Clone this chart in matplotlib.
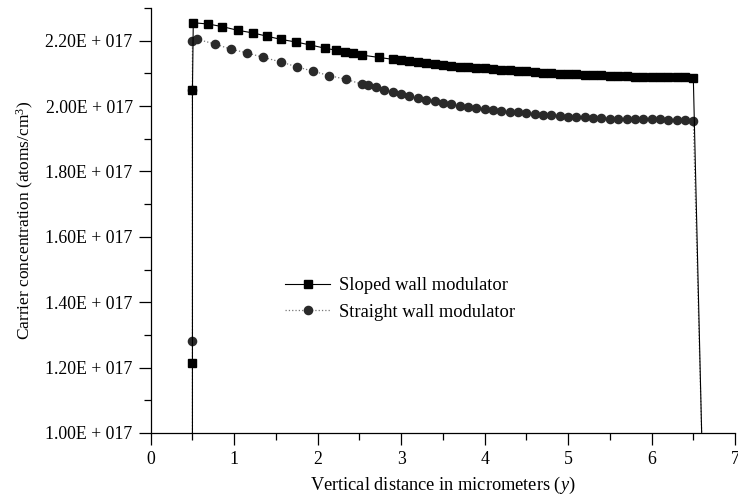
import matplotlib
matplotlib.use("Agg")
import matplotlib.pyplot as plt
from matplotlib.ticker import MultipleLocator, FixedLocator, FixedFormatter

plt.rcParams['font.family'] = ['Liberation Serif', 'DejaVu Serif']
plt.rcParams['mathtext.fontset'] = 'custom'
plt.rcParams['mathtext.rm'] = 'Liberation Serif'
plt.rcParams['mathtext.it'] = 'Liberation Serif:italic'

# carrier concentration in units of 1E17 atoms/cm^3
sloped_x = [0.5, 0.5, 0.5, 0.51, 0.69, 0.86, 1.04, 1.22, 1.39, 1.56, 1.74, 1.91,
            2.09, 2.22, 2.33, 2.42, 2.53, 2.73, 2.9,
            3.0, 3.1, 3.2, 3.3, 3.4, 3.5, 3.6, 3.7, 3.8, 3.9,
            4.0, 4.1, 4.2, 4.3, 4.4, 4.5, 4.6, 4.7, 4.8, 4.9,
            5.0, 5.1, 5.2, 5.3, 5.4, 5.5, 5.6, 5.7, 5.8, 5.9,
            6.0, 6.1, 6.2, 6.3, 6.4, 6.5, 6.6]
sloped_y = [1.0, 1.215, 2.05, 2.255, 2.251, 2.243, 2.232, 2.224, 2.214, 2.204, 2.196, 2.187,
            2.177, 2.171, 2.166, 2.161, 2.156, 2.149, 2.143,
            2.140, 2.137, 2.134, 2.132, 2.129, 2.126, 2.124, 2.121, 2.119, 2.117,
            2.115, 2.113, 2.111, 2.109, 2.107, 2.106, 2.104, 2.102, 2.101, 2.099,
            2.098, 2.097, 2.096, 2.095, 2.094, 2.093, 2.092, 2.091, 2.090, 2.090,
            2.089, 2.089, 2.088, 2.088, 2.088, 2.087, 1.0]

straight_x = [0.5, 0.5, 0.5, 0.5, 0.56, 0.77, 0.96, 1.15, 1.35, 1.56, 1.75, 1.94,
              2.14, 2.34, 2.53,
              2.6, 2.7, 2.8, 2.9, 3.0, 3.1, 3.2, 3.3, 3.4, 3.5, 3.6, 3.7, 3.8, 3.9,
              4.0, 4.1, 4.2, 4.3, 4.4, 4.5, 4.6, 4.7, 4.8, 4.9,
              5.0, 5.1, 5.2, 5.3, 5.4, 5.5, 5.6, 5.7, 5.8, 5.9,
              6.0, 6.1, 6.2, 6.3, 6.4, 6.5, 6.6]
straight_y = [1.0, 1.28, 2.05, 2.20, 2.204, 2.190, 2.174, 2.163, 2.149, 2.135, 2.120, 2.107,
              2.093, 2.082, 2.067,
              2.063, 2.057, 2.050, 2.043, 2.037, 2.031, 2.025, 2.020, 2.015, 2.010, 2.005,
              2.001, 1.997, 1.994,
              1.991, 1.988, 1.985, 1.983, 1.981, 1.978, 1.976, 1.974, 1.972, 1.970,
              1.968, 1.967, 1.966, 1.964, 1.963, 1.962, 1.961, 1.961, 1.960, 1.960,
              1.959, 1.959, 1.958, 1.957, 1.956, 1.955, 1.0]

y_ticks = [1.0, 1.2, 1.4, 1.6, 1.8, 2.0, 2.2]
y_tick_labels = ["1.00E + 017", "1.20E + 017", "1.40E + 017", "1.60E + 017",
                 "1.80E + 017", "2.00E + 017", "2.20E + 017"]

fig = plt.figure(figsize=(7.38, 4.95), dpi=100)
ax = fig.add_axes([0.2042, 0.1253, 0.7918, 0.8585])

# dotted straight-wall curve goes underneath
ax.plot(straight_x, straight_y, linestyle=':', color='#777777', linewidth=0.9,
        marker='o', markersize=5.9, markerfacecolor='#2a2a2a', markeredgecolor='#2a2a2a',
        markevery=slice(1, -1), label='Straight wall modulator', zorder=2)
ax.plot(sloped_x, sloped_y, linestyle='-', color='black', linewidth=0.8,
        marker='s', markersize=6.0, markerfacecolor='black', markeredgecolor='black',
        markevery=slice(1, -1), label='Sloped wall modulator', zorder=3)

ax.set_xlim(0, 7)
ax.set_ylim(1.0, 2.30)

ax.spines['top'].set_visible(False)
ax.spines['right'].set_visible(False)
ax.spines['left'].set_linewidth(0.9)
ax.spines['bottom'].set_linewidth(0.9)

ax.xaxis.set_major_locator(MultipleLocator(1))
ax.xaxis.set_minor_locator(MultipleLocator(0.5))
ax.yaxis.set_major_locator(FixedLocator(y_ticks))
ax.yaxis.set_major_formatter(FixedFormatter(y_tick_labels))
ax.yaxis.set_minor_locator(MultipleLocator(0.1))
ax.tick_params(which='major', direction='out', length=8.5, width=0.9, labelsize=12.8, pad=4.5)
ax.tick_params(which='minor', direction='out', length=5, width=0.9)

ax.set_xlabel('Vertical distance in micrometers ($y$)', fontsize=13.2, labelpad=5)
ax.set_ylabel('Carrier concentration (atoms/cm$^3$)', fontsize=12.5, labelpad=7)

handles, labels = ax.get_legend_handles_labels()
ax.legend(handles[::-1], labels[::-1], loc='center left', bbox_to_anchor=(0.23, 0.315),
          frameon=False, fontsize=13.3, handlelength=2.45, handletextpad=0.45,
          labelspacing=0.5, borderpad=0, borderaxespad=0)

fig.savefig('out.png', dpi=100)
